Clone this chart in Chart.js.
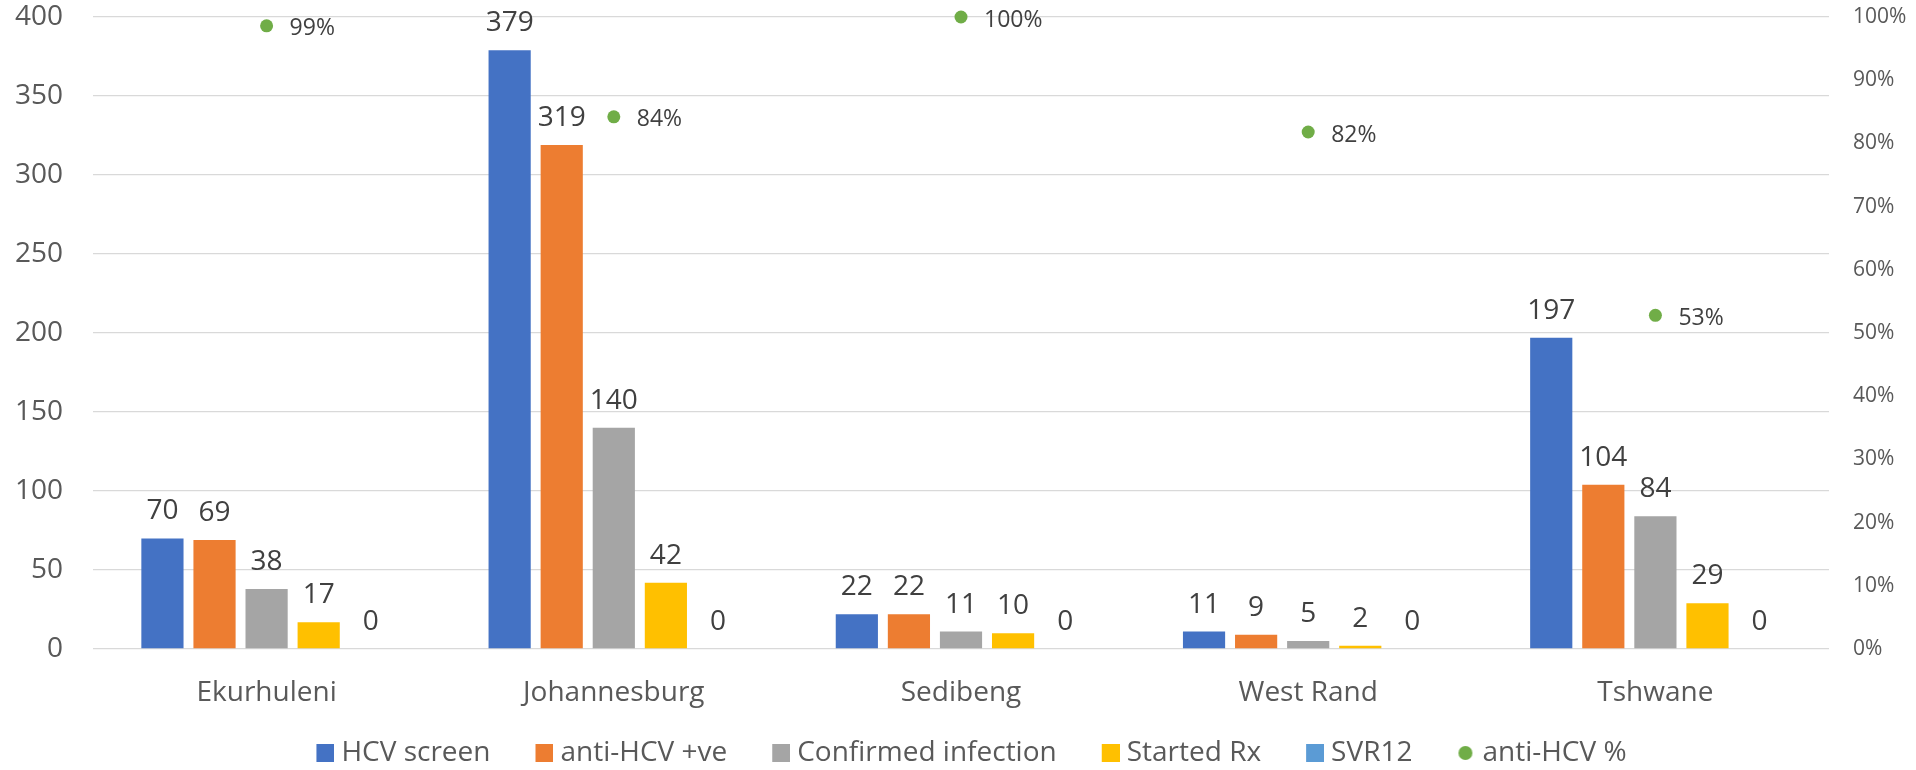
<!DOCTYPE html>
<html>
<head>
<meta charset="utf-8">
<script src="https://cdn.jsdelivr.net/npm/chart.js@4"></script>
<style>
	html, body { margin: 0; padding: 0; background: #fff; }
	#wrap { width: 1916px; height: 770px; }
</style>
</head>
<body>
<div id="wrap"><canvas id="chart"></canvas></div>
<script>
const districts = ['Ekurhuleni', 'Johannesburg', 'Sedibeng', 'West Rand', 'Tshwane'];
const hcvScreen = [70, 379, 22, 11, 197];
const antiHcvPos = [69, 319, 22, 9, 104];
const confirmedInfection = [38, 140, 11, 5, 84];
const startedRx = [17, 42, 10, 2, 29];
const svr12 = [0, 0, 0, 0, 0];
const antiHcvPct = [0.986, 0.842, 1.0, 0.818, 0.528];

const textColor = '#595959';
const labelColor = '#404040';

Chart.defaults.font.family = '"Open Sans", sans-serif';
Chart.defaults.color = textColor;

// legend markers as small images: marker sits at the right end so the
// gap to the text is tight while the gap between items stays wide
function legendMarker(color, round) {
	const c = document.createElement('canvas');
	c.width = 52;
	c.height = 18;
	const g = c.getContext('2d');
	g.fillStyle = color;
	if (round) {
		g.beginPath();
		g.arc(42, 9, 7, 0, Math.PI * 2);
		g.fill();
	} else {
		g.fillRect(34, 0, 18, 18);
	}
	return c;
}

const valueLabels = {
	id: 'valueLabels',
	afterDatasetsDraw(chart) {
		const ctx = chart.ctx;
		ctx.save();
		ctx.fillStyle = labelColor;
		chart.data.datasets.forEach((ds, i) => {
			const meta = chart.getDatasetMeta(i);
			if (meta.hidden) return;
			meta.data.forEach((el, j) => {
				const v = ds.data[j];
				if (meta.type === 'bar') {
					ctx.font = '28px "Open Sans"';
					ctx.textAlign = 'center';
					ctx.textBaseline = 'alphabetic';
					ctx.fillText(String(v), el.x, el.y - 19);
				} else {
					ctx.font = '23px "Open Sans"';
					ctx.textAlign = 'left';
					ctx.textBaseline = 'middle';
					ctx.fillText(Math.round(v * 100) + '%', el.x + 23, el.y + 3);
				}
			});
		});
		ctx.restore();
	}
};

// fixed axis widths; drop the label overhang padding so the plot starts at the top
function sideAxis(width) {
	return function (s) {
		s.width = width;
		s.paddingTop = 0;
		s.paddingBottom = 0;
	};
}

const barOpts = { categoryPercentage: 0.75, barPercentage: 0.81, borderWidth: 0, yAxisID: 'y' };

new Chart(document.getElementById('chart'), {
	type: 'bar',
	data: {
		labels: districts,
		datasets: [
			{ label: 'HCV screen', data: hcvScreen, backgroundColor: '#4472C4', ...barOpts },
			{ label: 'anti-HCV +ve', data: antiHcvPos, backgroundColor: '#ED7D31', ...barOpts },
			{ label: 'Confirmed infection', data: confirmedInfection, backgroundColor: '#A5A5A5', ...barOpts },
			{ label: 'Started Rx', data: startedRx, backgroundColor: '#FFC000', ...barOpts },
			{ label: 'SVR12', data: svr12, backgroundColor: '#5B9BD5', ...barOpts },
			{
				label: 'anti-HCV %',
				type: 'line',
				data: antiHcvPct,
				yAxisID: 'y2',
				showLine: false,
				clip: false,
				backgroundColor: '#70AD47',
				borderColor: '#70AD47',
				pointRadius: 6.5,
				pointBorderWidth: 0,
				pointStyle: 'circle'
			}
		]
	},
	options: {
		responsive: true,
		maintainAspectRatio: false,
		animation: false,
		layout: {
			padding: { top: 17, bottom: 0, left: 0, right: 0 }
		},
		plugins: {
			tooltip: { enabled: false },
			legend: {
				position: 'bottom',
				maxHeight: 49,
				labels: {
					usePointStyle: true,
					pointStyleWidth: 38,
					boxHeight: 18,
					padding: 18,
					color: textColor,
					font: { size: 28 },
					generateLabels(chart) {
						const items = Chart.defaults.plugins.legend.labels.generateLabels(chart);
						items.forEach(item => {
							const ds = chart.data.datasets[item.datasetIndex];
							item.pointStyle = legendMarker(ds.backgroundColor, ds.type === 'line');
							item.lineWidth = 0;
						});
						return items;
					}
				}
			}
		},
		scales: {
			x: {
				grid: { display: false },
				border: { display: false },
				ticks: { font: { size: 28 }, padding: 19, color: textColor },
				afterFit(s) { s.height = 72; }
			},
			y: {
				position: 'left',
				min: 0,
				max: 400,
				ticks: { stepSize: 50, font: { size: 28 }, padding: 30, color: textColor },
				grid: { color: '#D9D9D9', lineWidth: 1.3, drawTicks: false },
				border: { display: false },
				afterFit: sideAxis(93)
			},
			y2: {
				position: 'right',
				min: 0,
				max: 1,
				ticks: {
					stepSize: 0.1,
					font: { size: 21 },
					padding: 24,
					color: textColor,
					callback: v => Math.round(v * 100) + '%'
				},
				grid: { drawOnChartArea: false, drawTicks: false },
				border: { display: false },
				afterFit: sideAxis(87)
			}
		}
	},
	plugins: [valueLabels]
});
</script>
</body>
</html>
